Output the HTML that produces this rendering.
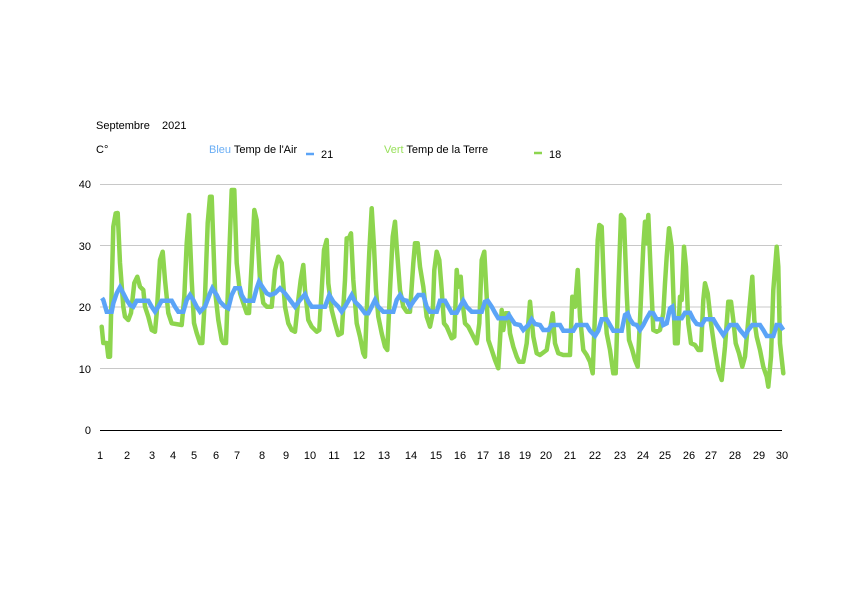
<!DOCTYPE html>
<html>
<head>
<meta charset="utf-8">
<style>
  html,body{margin:0;padding:0;background:#fff;}
  svg{display:block;}
  text{font-family:"Liberation Sans", Arial, sans-serif;font-size:11px;fill:#000;}
</style>
</head>
<body>
<svg width="842" height="595" viewBox="0 0 842 595" xmlns="http://www.w3.org/2000/svg">
  <rect width="842" height="595" fill="#fff"/>
  <!-- titles -->
  <text x="96" y="129">Septembre</text>
  <text x="162" y="129">2021</text>
  <text x="96" y="153">C°</text>
  <text x="209" y="153"><tspan style="fill:#6aaef5">Bleu</tspan> Temp de l'Air</text>
  <line x1="306" y1="154" x2="314" y2="154" stroke="#5ba4f7" stroke-width="2.5"/>
  <text x="321" y="158">21</text>
  <text x="384" y="153"><tspan style="fill:#98e05a">Vert</tspan>  Temp de la Terre</text>
  <line x1="534" y1="153" x2="542" y2="153" stroke="#8dd54e" stroke-width="2.5"/>
  <text x="549" y="158">18</text>

  <!-- grid -->
  <g stroke="#c8c8c8" stroke-width="1">
    <line x1="100" y1="184.5" x2="782" y2="184.5"/>
    <line x1="100" y1="245.5" x2="782" y2="245.5"/>
    <line x1="100" y1="307" x2="782" y2="307"/>
    <line x1="100" y1="368.5" x2="782" y2="368.5"/>
  </g>
  <line x1="100" y1="430.5" x2="782" y2="430.5" stroke="#000" stroke-width="1"/>

  <!-- y labels -->
  <g text-anchor="end">
    <text x="91" y="188">40</text>
    <text x="91" y="250">30</text>
    <text x="91" y="311">20</text>
    <text x="91" y="373">10</text>
    <text x="91" y="434">0</text>
  </g>
  <!-- x labels -->
  <g text-anchor="middle">
    <text x="100" y="459">1</text>
    <text x="127" y="459">2</text>
    <text x="152" y="459">3</text>
    <text x="173" y="459">4</text>
    <text x="194" y="459">5</text>
    <text x="216" y="459">6</text>
    <text x="237" y="459">7</text>
    <text x="262" y="459">8</text>
    <text x="286" y="459">9</text>
    <text x="310" y="459">10</text>
    <text x="334" y="459">11</text>
    <text x="359" y="459">12</text>
    <text x="384" y="459">13</text>
    <text x="411" y="459">14</text>
    <text x="436" y="459">15</text>
    <text x="460" y="459">16</text>
    <text x="483" y="459">17</text>
    <text x="504" y="459">18</text>
    <text x="525" y="459">19</text>
    <text x="546" y="459">20</text>
    <text x="570" y="459">21</text>
    <text x="595" y="459">22</text>
    <text x="620" y="459">23</text>
    <text x="643" y="459">24</text>
    <text x="665" y="459">25</text>
    <text x="689" y="459">26</text>
    <text x="711" y="459">27</text>
    <text x="735" y="459">28</text>
    <text x="759" y="459">29</text>
    <text x="782" y="459">30</text>
  </g>

  <!-- green series -->
  <polyline fill="none" stroke="#8dd54e" stroke-width="4.5" stroke-linejoin="round" stroke-linecap="round"
    points="101.7,326.7 103.3,343 106.7,343 108.3,356.7 110,356.7 113.3,226.7 115.7,213.3 117.7,213 120,263 123.3,306.7 125,316.7 128.3,320 131,313 134.3,283 137.3,276.7 140,286.7 143.3,290 145,306.7 148.3,316.7 151.7,330 155,331.7 156.7,313 160,260 162.7,251.7 165,280 168.3,313 171.7,323.3 181.7,325 184.3,296.7 186.7,243.3 189,215 191.7,280 194,323 196.7,333 200,343 202.3,343 205,296.7 207.7,223 210,196.7 211.7,196.7 215,290 218.3,320 221.7,340 223.3,343 226,343 228.3,280 231.7,190 234.3,190 236.7,263 240,293 243.3,303 246.7,313 249,313 251.7,263 254.3,210 256.7,220 260,280 263.3,303 266.7,306.7 271.7,306.7 275,270 278.3,256.7 281.7,263 285,306.7 288.3,323.3 291.7,330 295,331.7 298.3,300 300.7,280 303.3,265 305,290 308.3,320 311.7,326.7 316.7,331.7 319.3,330 321.7,290 324,250 326.7,240 328.3,283.3 331.7,310 335,323.3 338.3,335 341.7,333.3 345,280 346.7,238.3 349,238 351,233.3 353.3,280 356.7,323.3 360,336.7 363.3,353.3 365,356.7 367.3,296.7 369.3,251.7 371.7,208.3 374,246.7 376,290 378.3,316.7 381.7,333.3 385,346.7 387.3,350 390,290 392.7,236.7 395,221.7 396.7,246.7 400,290 403.3,306.7 406.7,311.7 410,311.7 413.3,263.3 415,243.3 417.7,243.3 420,266.7 423.3,286.7 426.7,316.7 430,326.7 432.7,313.3 434.3,270 436.7,251.7 439.3,260 441.7,290 444,323.3 446.7,326.7 451.7,338.3 454.3,336.7 456.7,270 458.3,286.7 460.7,276.7 462.3,300 465,323.3 468.3,326.7 471.7,333.3 475,340 476.7,343.3 479.3,323.3 481.7,260 484.3,251.7 486.7,296.7 488.3,340 491.7,350 495,360 498.3,368.3 500,340 501.7,310 503.3,330 505.7,313.3 508.3,313.3 510,333.3 513.3,346.7 516.7,356.7 519,361.7 523.3,361.7 526.7,343.3 530,301.7 531.7,320 533.3,336.7 536.7,353.3 540,355 546.7,350 550,330 552.7,313.3 555,343.3 558.3,353.3 563.3,355 570,355 572.3,296.7 575,306.7 577.7,270 580,316.7 583.3,350 586.7,355 590,361.7 592.7,373.3 595,313.3 597.7,240 599.3,225 601.7,226.7 604.3,296.7 606.7,333.3 610,350 613.3,373.3 615.7,373.3 618.3,290 621,215 624,219 626.7,293.3 629,340 632.3,350 635,360 637.7,366.7 640,320 643.3,246.7 645,221.7 646.7,243.3 648.3,215 651,280 653.3,330 656.7,331.7 660,330 663.3,313.3 665,283.3 666.7,256.7 669,228.3 671.7,246.7 673.3,293.3 675,343.3 677.7,343.3 680,296.7 681.7,300 684,246.7 686,266.7 688.3,323.3 691,343.3 695,345 698.3,350 701,350 703.3,300 705,283.3 707.7,293.3 711,323.3 714.3,346.7 718.3,370 721.7,380 725,346.7 728.3,301.7 731,301.7 733.3,320 735.7,343.3 739,353.3 742.3,366.7 745,356.7 748.3,320 752.3,276.7 754.3,320 756.7,336.7 760,350 763.3,366.7 766.7,376.7 768.3,386.7 771,356.7 773.3,290 776.7,246.7 778.3,266.7 780,343.3 783.3,373.3"/>

  <!-- blue series -->
  <polyline fill="none" stroke="#5ba4f7" stroke-width="4.5" stroke-linejoin="miter" stroke-linecap="butt"
    points="102,298 103.3,300 106.7,311.7 111.7,311.7 113.3,303.3 116.7,293.3 120,287.3 123.3,293.3 126.7,300 130,305 133.3,306.7 136.7,300.7 148.3,300.7 151.7,306.7 155,311.7 158.3,306.7 161.7,300.7 171.7,300.7 175,306.7 178.3,311.7 183.3,311.7 186.7,300 190,295 193.3,300 196.7,306.7 200,311.7 205,306.7 210,293.3 212.3,288.3 216.7,295 220,301.7 225,306.7 228.3,308.3 231.7,295 235,288.3 240,288.3 241.7,295 245,300.7 253.3,300.7 256.7,288.3 259,281.7 263.3,288.3 266.7,293.3 270,295 275,293.3 280,288.3 285,293.3 290,300 295,306.7 300,300 305,294.3 308.3,301.7 311.7,306.7 325,306.7 329.3,295 333.3,301.7 338.3,306.7 341.7,311.7 345,306.7 351.7,295 355,301.7 360,306.7 365,313.3 368.3,313.3 371.7,306.7 375,300 378.3,306.7 383.3,311.7 393.3,311.7 396.7,300 400,295 403.3,300 406.7,300.7 410,306.7 413.3,301.7 418.3,295 423.3,295 426.7,306.7 430,311.7 436.7,311.7 440,300.7 445,300.7 448.3,306.7 451.7,312.7 456.7,312.7 460,306.7 463.3,300.7 466.7,306.7 471.7,311.7 481.7,311.7 485,301.7 487.7,300.7 491.7,306.7 495,312.7 498.3,318.3 506.7,318.3 509,315 511.7,319.3 515,324 520,325 523.3,330 528.3,325 531.7,319.3 535,324 540,325 543.3,330 548.3,330 551.7,325 560,325 563.3,330.7 573.3,330.7 576.7,325 586.7,325 590,330.7 595,336 598.3,330.7 601.7,319.3 606.7,319.3 610,325 613.3,330.7 621.7,330.7 625,315 627.7,313.3 630,319.3 633.3,324 636.7,325 640,330 643.3,325 646.7,318.3 650,312.7 653.3,313.3 656.7,319.3 661.7,319.3 663.3,325 666.7,323.3 670,308.3 672.3,306.7 674.3,318.3 681.7,318.3 685,312.7 690,312.7 693.3,319.3 696.7,324 701.7,325 705,319.3 713.3,319.3 716.7,325 720,330 723.3,335 726.7,330 730,325 736.7,325 740,330 745,336 748.3,330 752.3,325 760,325 763.3,330 766.7,336 773.3,336 776.7,325 780,325 783.3,330"/>
</svg>
</body>
</html>
